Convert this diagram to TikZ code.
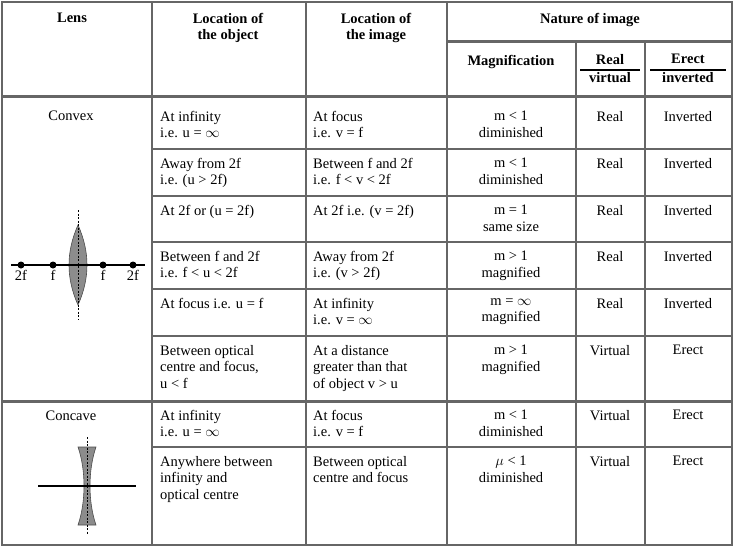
\documentclass[tikz,border=0pt]{standalone}
\usepackage{fontspec}
\setmainfont{Liberation Serif}
\begin{document}
\begin{tikzpicture}[x=1pt,y=-1pt,
  thin/.style={draw=black!60,line width=1.2pt},
  thick/.style={draw=black!60,line width=3pt},
  txt/.style={anchor=north west,inner sep=0pt,align=left,font=\fontsize{14.5}{16.5}\selectfont},
  ctr/.style={anchor=north,inner sep=0pt,align=center,font=\fontsize{14.5}{16.5}\selectfont},
  hd/.style={anchor=north,inner sep=0pt,align=center,font=\fontsize{14.5}{16}\selectfont\bfseries},
  lbl/.style={anchor=north,inner sep=0pt,font=\fontsize{14.5}{16}\selectfont}]
\useasboundingbox (0,0) rectangle (734,549);
% grid
\draw[thin] (2,2) rectangle (732,545);
\foreach \x in {152,306,447} \draw[thin] (\x,2) -- (\x,545);
\foreach \x in {576,645} \draw[thin] (\x,41) -- (\x,545);
\draw[thick] (447,41) -- (732,41);
\draw[thick] (2,96) -- (732,96);
\draw[thick] (2,401) -- (732,401);
\foreach \y in {149,196,242,289,336,447} \draw[thin] (152,\y) -- (732,\y);
% header
\node[hd] (hl) at (72,13) {Lens};
\node[hd] (ho) at (228,13) {Location of\\the object};
\node[hd] (hi) at (376,13) {Location of\\the image};
\node[hd] (hn) at (590,13) {Nature of image};
\node[hd] (hm) at (511,55) {Magnification};
\node[hd] (hr) at (610,54) {Real};
\node[hd] (hv) at (610,72) {virtual};
\node[hd] (he) at (688,54) {Erect};
\node[hd] (hiv) at (688,72) {inverted};
\draw[line width=1.6pt] (580,70) -- (640,70);
\draw[line width=1.6pt] (650,70) -- (726,70);
% rows
\newcommand\rowtxt[6]{%
 \node[txt] at (160,#1) {#2};
 \node[txt] at (313,#1) {#3};
 \node[ctr] at (511,#1) {#4};
 \node[ctr] at (610,#1) {#5};
 \node[ctr] at (688,#1) {#6};}
\rowtxt{111}{At infinity\\i.e. u = $\infty$}{At focus\\i.e. v = f}{m < 1\\diminished}{Real}{Inverted}
\rowtxt{158}{Away from 2f\\i.e. (u > 2f)}{Between f and 2f\\i.e. f < v < 2f}{m < 1\\diminished}{Real}{Inverted}
\rowtxt{205}{At 2f or (u = 2f)}{At 2f i.e. (v = 2f)}{m = 1\\same size}{Real}{Inverted}
\rowtxt{251}{Between f and 2f\\i.e. f < u < 2f}{Away from 2f\\i.e. (v > 2f)}{m > 1\\magnified}{Real}{Inverted}
\rowtxt{298}{At focus i.e. u = f}{At infinity\\i.e. v = $\infty$}{m = $\infty$\\magnified}{Real}{Inverted}
\rowtxt{345}{Between optical\\centre and focus,\\u < f}{At a distance\\greater than that\\of object v > u}{m > 1\\magnified}{Virtual}{Erect}
\rowtxt{410}{At infinity\\i.e. u = $\infty$}{At focus\\i.e. v = f}{m < 1\\diminished}{Virtual}{Erect}
\rowtxt{456}{Anywhere between\\infinity and\\optical centre}{Between optical\\centre and focus}{$\mu$ < 1\\diminished}{Virtual}{Erect}
% convex lens
\node[lbl] (cvx) at (71,111) {Convex};
\draw[fill=black!45,draw=black!70,line width=0.6pt] (78,225) .. controls (90,252) and (90,278) .. (78,305) .. controls (66,278) and (66,252) .. (78,225) -- cycle;
\draw[line width=1.8pt] (11,265) -- (145,265);
\draw[line width=1pt,dash pattern=on 2pt off 1.5pt] (78,210) -- (78,320);
\foreach \x/\t in {21/2f,53/f,103/f,133/2f} {
  \fill (\x,265) circle (3.5);
  \node[lbl] at (\x,270) {\t};}
% concave lens
\node[lbl] (ccv) at (71,411) {Concave};
\draw[fill=black!45,draw=black!70,line width=0.6pt] (78,447) -- (96,447) .. controls (88,470) and (88,502) .. (96,525) -- (78,525) .. controls (86,502) and (86,470) .. (78,447) -- cycle;
\draw[line width=1.8pt] (38,486) -- (136,486);
\draw[line width=1pt,dash pattern=on 2pt off 1.5pt] (87,437) -- (87,535);
\end{tikzpicture}
\end{document}
